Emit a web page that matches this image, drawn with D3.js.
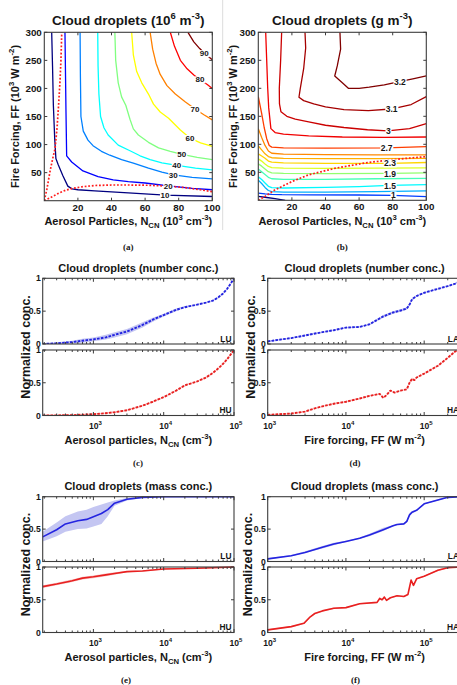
<!DOCTYPE html>
<html><head><meta charset="utf-8">
<script src="https://cdn.jsdelivr.net/npm/d3@7"></script>
<style>
body{margin:0;background:#fff;}
svg{display:block;font-family:"Liberation Sans",Arial,Helvetica,sans-serif;}
text{white-space:pre;}
</style></head><body>
<script>
// ---------------- data ----------------
// (a) droplet number (10^6 m^-3) over aerosol N_CN (10^3 cm^-3) and fire forcing FF (10^3 W m^-2)
const numberLevels = [10, 20, 30, 40, 50, 60, 70, 80, 90];
const numberContours = [
  [[4.4,300],[4.9,240],[5.4,170],[6.2,110],[6.9,75],[8.3,64],[11,45],[14,26],[16.5,21],[20,19.5],[30,17.5],[50,14],[72,10],[100,7.5]],
  [[12.3,300],[12.6,230],[12.9,160],[13.3,80],[16.3,69],[23,53],[32,43],[41,37],[50,34],[60,31.5],[74,26.5],[88,22],[100,19.5]],
  [[21.3,300],[21.5,220],[21.8,150],[23.2,124],[26,108],[29,98],[34,88],[39,81],[46,73],[53,67],[62,58],[70,51],[77,46],[88,41.5],[100,39]],
  [[31.8,300],[32,240],[32.5,190],[33.5,150],[35.5,130],[38,117],[44,99],[51,89],[57,80],[63,73],[70,67.5],[79,63],[90,58],[100,55]],
  [[42,300],[42.5,250],[44,210],[46,185],[48.5,170],[51,145],[53,128],[56,117],[62,104],[68,94],[75,88],[82,82.5],[91,77],[100,73]],
  [[52,300],[53,260],[55,230],[58,210],[62,190],[65,172],[69,158],[74,147],[78,135],[81,126],[87,111],[93,103],[100,97]],
  [[63,300],[64.5,270],[66.5,245],[69,225],[73,205],[78,190],[84,176],[90,163],[95,153],[100,144]],
  [[75,300],[77.5,275],[81,250],[85,235],[89,224],[93,215],[97,207],[100,200]],
  [[85.5,300],[89,283],[92.5,271],[96,261],[100,251]]
];
const numberLabels = [[10,71.8,9.8],[20,73.8,26.6],[30,76.8,46.2],[40,78.8,63],[50,81.8,82.6],[60,86.7,111.5],[70,89.7,163],[80,92.7,216],[90,95.2,262.6]];
const numberRegimeSteep = [[0,0],[1.5,20],[3.4,52],[5,75],[6.4,93],[7.6,130],[8.5,170],[9.3,210],[9.9,250],[10.4,300]];
const numberRegimeFlat = [[0,0],[4,6],[9,14],[13,19],[17,22],[23,25],[30,27],[40,28],[50,28],[62,27.5],[74,26],[85,23],[93,19.5],[100,16]];

// (b) droplet mass (g m^-3)
const massLevels = [0.5, 1, 1.3, 1.5, 1.7, 1.9, 2.1, 2.3, 2.4, 2.5, 2.7, 2.9, 3, 3.1, 3.2];
const massContours = [
  [[0,7],[5,5],[10,3],[16,0]],
  [[0,13],[4,11.5],[8,10.5],[14,10],[30,9.8],[60,9.5],[80,8.8],[100,6.5]],
  [[0,36],[2,30],[4,23],[6,17.5],[8,15.5],[15,14.5],[40,14.5],[70,15.5],[100,17]],
  [[0,42],[2,37],[4,31],[6,25],[8,22.5],[15,22],[40,23],[60,24.5],[78,26.5],[100,28]],
  [[0,56],[2,51],[4,46],[6,41],[8,38.5],[15,37.5],[40,37.5],[70,38.5],[100,39]],
  [[0,65],[2,61],[4,56],[6,51],[8,49],[15,48],[40,47.5],[78,48],[100,49]],
  [[0,74],[2,70],[4,65],[6,60.5],[8,58.5],[15,57.5],[40,57],[70,57.5],[100,58]],
  [[0,83],[2,79],[4,75],[6,70],[8,68],[15,67],[40,66],[78,66],[100,67.5]],
  [[0,97],[2,90],[4,83],[6,78],[8,76],[15,75],[40,74.5],[70,74.5],[100,75]],
  [[0,128],[2,112],[4,98],[6,88],[8,84],[15,82.5],[40,81.5],[70,81],[100,81]],
  [[0,185],[2,155],[3.5,130],[5,110],[6.5,98],[8,95],[15,93.5],[40,93],[76,93.5],[100,96]],
  [[4.4,300],[5,250],[5.6,200],[6.2,165],[7.5,128],[10,121],[15,118],[30,115],[50,113],[75,112.5],[100,113]],
  [[13.9,300],[13.3,250],[12.5,200],[12.6,172],[13.5,158],[17,150],[22,145],[30,140],[40,134],[51,130],[65,126],[77,124],[90,128],[100,137]],
  [[27.8,300],[28.2,272],[27,235],[25,200],[24.2,184],[27,178],[33,172],[40,167],[51,162],[65.5,160],[79,163],[91,171],[100,185]],
  [[48.6,300],[49,270],[47,240],[45.5,222],[50,210],[53.6,200],[60,200],[66,202],[75,206],[84,212],[92,217],[100,222]]
];
const massLabels = [[1,80.4,8.8],[1.5,78.4,26.5],[1.9,78.4,47.9],[2.3,78.4,66],[2.7,76.4,93.4],[3,77.4,124],[3.1,79.4,163.5],[3.2,84.3,212]];
const massRegime = [[0,0],[4,7],[10,18.7],[20,33.5],[30,45.5],[46,57.4],[65,67.4],[83,73.5],[100,78]];

const contourXTicks = [20, 40, 60, 80, 100];
const contourYTicks = [50, 100, 150, 200, 250, 300];
const normTicks = [0, 0.5, 1];

// (c)-(f) rows: [x, normalized value, band low, band high]
const numConcLU = [[190,0.00,0.00,0.01],[300,0.01,0.00,0.025],[500,0.03,0.01,0.05],[700,0.05,0.02,0.08],[1000,0.07,0.04,0.10],[1500,0.10,0.07,0.14],[2000,0.14,0.10,0.18],[3000,0.19,0.15,0.23],[5000,0.29,0.25,0.33],[7000,0.37,0.34,0.40],[10000,0.44,0.42,0.46],[15000,0.52,0.50,0.54],[20000,0.56,0.55,0.58],[30000,0.60,0.59,0.61],[40000,0.63,0.62,0.64],[50000,0.66,0.65,0.67],[60000,0.71,0.70,0.72],[70000,0.77,0.76,0.78],[80000,0.84,0.83,0.85],[90000,0.92,0.91,0.93],[100000,1.00,0.99,1.00]];
const numConcHU = [[190,0.00,0.00,0.01],[500,0.005,0.00,0.015],[1000,0.02,0.01,0.03],[1500,0.035,0.025,0.045],[2000,0.05,0.04,0.06],[3000,0.08,0.07,0.09],[5000,0.15,0.14,0.16],[7000,0.21,0.20,0.22],[10000,0.28,0.27,0.29],[15000,0.38,0.37,0.39],[20000,0.46,0.45,0.47],[30000,0.52,0.51,0.53],[40000,0.58,0.57,0.59],[50000,0.65,0.64,0.66],[60000,0.72,0.71,0.73],[70000,0.79,0.78,0.80],[80000,0.86,0.85,0.87],[100000,1.00,0.99,1.00]];
const numConcLA = [[1000,0.04,0.03,0.05],[1500,0.07,0.06,0.08],[2000,0.09,0.08,0.10],[3000,0.13,0.12,0.14],[5000,0.18,0.17,0.19],[7000,0.21,0.20,0.22],[10000,0.25,0.24,0.26],[15000,0.26,0.25,0.27],[20000,0.30,0.29,0.31],[30000,0.42,0.40,0.44],[40000,0.48,0.46,0.50],[50000,0.51,0.49,0.53],[60000,0.54,0.52,0.56],[65000,0.60,0.58,0.62],[70000,0.68,0.66,0.70],[80000,0.73,0.72,0.74],[100000,0.78,0.77,0.79],[150000,0.84,0.83,0.85],[200000,0.88,0.87,0.89],[250000,0.92,0.91,0.93],[300000,0.96,0.95,0.97]];
const numConcHA = [[1000,0.01,0.00,0.02],[2000,0.03,0.02,0.04],[3000,0.06,0.05,0.07],[4000,0.11,0.10,0.12],[5000,0.14,0.13,0.15],[7000,0.18,0.17,0.19],[10000,0.21,0.20,0.22],[15000,0.26,0.25,0.27],[20000,0.30,0.29,0.31],[27000,0.33,0.32,0.34],[30000,0.27,0.26,0.28],[33000,0.31,0.30,0.32],[37000,0.38,0.37,0.39],[42000,0.35,0.34,0.36],[50000,0.38,0.37,0.39],[60000,0.40,0.39,0.41],[65000,0.50,0.48,0.52],[70000,0.56,0.54,0.58],[75000,0.54,0.53,0.55],[80000,0.58,0.57,0.59],[100000,0.64,0.63,0.65],[150000,0.76,0.75,0.77],[200000,0.88,0.87,0.89],[250000,0.98,0.97,0.99],[300000,1.00,0.99,1.00]];
const massConcLU = [[190,0.38,0.31,0.46],[300,0.49,0.39,0.60],[400,0.58,0.46,0.70],[600,0.63,0.50,0.77],[800,0.65,0.51,0.80],[1000,0.69,0.54,0.84],[1300,0.74,0.58,0.88],[1600,0.80,0.70,0.91],[2000,0.90,0.86,0.94],[3000,0.96,0.94,0.98],[5000,0.99,0.98,1.00],[10000,1.00,1.00,1.00],[100000,1.00,1.00,1.00]];
const massConcHU = [[190,0.70,0.68,0.72],[300,0.74,0.72,0.76],[450,0.78,0.76,0.80],[500,0.79,0.77,0.81],[700,0.83,0.81,0.85],[1000,0.85,0.83,0.87],[1500,0.88,0.86,0.90],[2000,0.90,0.88,0.92],[3000,0.93,0.92,0.94],[5000,0.94,0.93,0.95],[10000,0.97,0.96,0.98],[30000,0.98,0.975,0.99],[100000,1.00,0.99,1.00]];
const massConcLA = [[1000,0.04,0.03,0.05],[2000,0.09,0.08,0.10],[3000,0.14,0.13,0.16],[5000,0.22,0.20,0.24],[7000,0.27,0.25,0.29],[10000,0.31,0.30,0.32],[15000,0.36,0.35,0.37],[20000,0.41,0.39,0.43],[30000,0.49,0.47,0.52],[40000,0.55,0.54,0.56],[45000,0.57,0.56,0.58],[55000,0.58,0.57,0.59],[60000,0.62,0.60,0.64],[65000,0.72,0.70,0.75],[70000,0.76,0.74,0.78],[80000,0.79,0.78,0.80],[100000,0.89,0.88,0.90],[150000,0.95,0.94,0.96],[200000,0.99,0.98,1.00],[300000,1.00,0.99,1.00]];
const massConcHA = [[1000,0.04,0.03,0.05],[2000,0.09,0.08,0.10],[2900,0.14,0.13,0.15],[3500,0.24,0.23,0.25],[4000,0.29,0.28,0.30],[5000,0.33,0.32,0.34],[7000,0.37,0.36,0.38],[10000,0.38,0.37,0.39],[15000,0.44,0.43,0.45],[25000,0.46,0.45,0.47],[27000,0.52,0.50,0.54],[29000,0.50,0.49,0.51],[31000,0.54,0.52,0.56],[33000,0.49,0.48,0.50],[37000,0.53,0.52,0.54],[45000,0.56,0.55,0.57],[55000,0.55,0.54,0.56],[62000,0.58,0.57,0.59],[68000,0.80,0.78,0.82],[73000,0.72,0.71,0.73],[80000,0.82,0.81,0.83],[100000,0.86,0.85,0.87],[150000,0.95,0.94,0.96],[200000,0.99,0.98,1.00],[300000,1.00,0.99,1.00]];

// ---------------- drawing ----------------
const W = 457, H = 685;
const INK = '#161616', AXIS = '#3c3c3c';
const BLUE = '#2424e0', RED = '#e82020';
const svg = d3.select('body').append('svg').attr('width', W).attr('height', H);
svg.append('rect').attr('width', W).attr('height', H).attr('fill', '#fff');

// MATLAB-style jet colour map
function jet(t) {
  const c = v => Math.max(0, Math.min(1, v));
  return d3.rgb(255 * c(1.5 - Math.abs(4 * t - 3)), 255 * c(1.5 - Math.abs(4 * t - 2)), 255 * c(1.5 - Math.abs(4 * t - 1)));
}

// text with super/subscript pieces
function richText(parent, parts, size, attrs) {
  const t = parent.append('text').attr('font-size', size).attr('font-weight', 'bold').attr('fill', INK);
  Object.entries(attrs || {}).forEach(([k, v]) => t.attr(k, v));
  let shift = 0;
  parts.forEach(p => {
    const [s, k] = Array.isArray(p) ? p : [p, 'n'];
    const off = k === 'sup' ? -0.42 * size : k === 'sub' ? 0.3 * size : 0;
    t.append('tspan').attr('dy', (off - shift).toFixed(2))
      .attr('font-size', k === 'n' ? size : (size * 0.7).toFixed(2)).text(s);
    shift = off;
  });
  return t;
}

let clipCount = 0;
function clipFor(l, t, r, b) {
  const id = 'clip' + (clipCount++);
  svg.append('clipPath').attr('id', id).append('rect').attr('x', l).attr('y', t).attr('width', r - l).attr('height', b - t);
  return `url(#${id})`;
}

function contourPanel(p) {
  const x = d3.scaleLinear().domain([0, 100]).range([p.left, p.right]);
  const y = d3.scaleLinear().domain([0, 300]).range([p.bottom, p.top]);
  const g = svg.append('g');
  const plot = g.append('g').attr('clip-path', clipFor(p.left, p.top, p.right, p.bottom));
  const lo = d3.min(p.levels), hi = d3.max(p.levels);
  const line = d3.line().x(d => x(d[0])).y(d => y(d[1]));
  p.contours.forEach((pts, i) => plot.append('path').attr('d', line(pts)).attr('fill', 'none')
    .attr('stroke', jet((p.levels[i] - lo) / (hi - lo))).attr('stroke-width', 1.3).attr('stroke-linejoin', 'round'));
  p.regimes.forEach(pts => plot.append('path').attr('d', line(pts)).attr('fill', 'none')
    .attr('stroke', '#ff1c1c').attr('stroke-width', 1.7).attr('stroke-dasharray', '1.8,1.8'));
  p.labels.forEach(([lev, lx, ly]) => {
    const t = plot.append('text').attr('x', x(lx)).attr('y', y(ly)).attr('dy', '0.36em')
      .attr('text-anchor', 'middle').attr('font-size', p.labelSize).attr('font-weight', 'bold').attr('fill', INK).text(lev);
    const b = t.node().getBBox();
    plot.insert('rect', () => t.node()).attr('x', b.x - 0.5).attr('y', b.y + 1).attr('width', b.width + 1).attr('height', b.height - 2).attr('fill', '#fff');
  });
  // box and inward ticks
  const ax = g.append('g').attr('stroke', AXIS).attr('fill', 'none');
  ax.append('rect').attr('x', p.left).attr('y', p.top).attr('width', p.right - p.left).attr('height', p.bottom - p.top).attr('stroke-width', 1.1);
  contourXTicks.forEach(v => {
    ax.append('line').attr('x1', x(v)).attr('x2', x(v)).attr('y1', p.bottom).attr('y2', p.bottom - 3);
    ax.append('line').attr('x1', x(v)).attr('x2', x(v)).attr('y1', p.top).attr('y2', p.top + 3);
    g.append('text').attr('x', x(v)).attr('y', p.bottom + 10).attr('text-anchor', 'middle')
      .attr('font-size', 9.8).attr('font-weight', 'bold').attr('fill', INK).text(v);
  });
  contourYTicks.forEach(v => {
    ax.append('line').attr('x1', p.left).attr('x2', p.left + 3).attr('y1', y(v)).attr('y2', y(v));
    ax.append('line').attr('x1', p.right).attr('x2', p.right - 3).attr('y1', y(v)).attr('y2', y(v));
    g.append('text').attr('x', p.left - 2.5).attr('y', y(v) + 3.5).attr('text-anchor', 'end')
      .attr('font-size', 9.8).attr('font-weight', 'bold').attr('fill', INK).text(v);
  });
  const cx = (p.left + p.right) / 2;
  richText(g, p.title, 13.5, { x: cx, y: 24.5, 'text-anchor': 'middle' });
  richText(g, ['Aerosol Particles, N', ['CN', 'sub'], ' (10', ['3', 'sup'], ' cm', ['-3', 'sup'], ')'], 11, { x: cx, y: 225, 'text-anchor': 'middle' });
  richText(g, ['Fire Forcing, FF (10', ['3', 'sup'], ' W m', ['-2', 'sup'], ')'], 11,
    { x: 0, y: 0, 'text-anchor': 'middle', transform: `translate(${p.yLabelX},${(p.top + p.bottom) / 2}) rotate(-90)` });
  g.append('text').attr('x', cx).attr('y', 250).attr('text-anchor', 'middle').attr('font-family', '"Liberation Serif",serif')
    .attr('font-size', 9).attr('font-weight', 'bold').attr('fill', INK).text(p.caption);
}

function logSubplot(p) {
  const x = d3.scaleLog().domain(p.domain).range([p.left, p.right]);
  const y = d3.scaleLinear().domain([0, 1]).range([p.bottom, p.top]);
  const g = svg.append('g');
  const plot = g.append('g').attr('clip-path', clipFor(p.left, p.top - 1, p.right, p.bottom));
  plot.append('path').datum(p.data)
    .attr('d', d3.area().x(d => x(d[0])).y0(d => y(d[2])).y1(d => y(d[3])))
    .attr('fill', p.band).attr('stroke', 'none');
  plot.append('path').datum(p.data)
    .attr('d', d3.line().x(d => x(d[0])).y(d => y(d[1])))
    .attr('fill', 'none').attr('stroke', p.color).attr('stroke-width', p.dashed ? 1.9 : 1.6)
    .attr('stroke-dasharray', p.dashed ? '2.6,1.3' : null).attr('stroke-linejoin', 'round');
  const ax = g.append('g').attr('stroke', AXIS).attr('fill', 'none');
  ax.append('rect').attr('x', p.left).attr('y', p.top).attr('width', p.right - p.left).attr('height', p.bottom - p.top).attr('stroke-width', 1.1);
  const [d0, d1] = p.domain;
  for (let e = Math.floor(Math.log10(d0)); e <= Math.ceil(Math.log10(d1)); e++) {
    for (let m = 1; m <= 9; m++) {
      const v = m * Math.pow(10, e);
      if (v < d0 * 0.999 || v > d1 * 1.001) continue;
      const len = m === 1 ? 3.5 : 2;
      ax.append('line').attr('x1', x(v)).attr('x2', x(v)).attr('y1', p.bottom).attr('y2', p.bottom - len);
      ax.append('line').attr('x1', x(v)).attr('x2', x(v)).attr('y1', p.top).attr('y2', p.top + len);
      if (m === 1 && p.xLabels) {
        richText(g, ['10', [String(e), 'sup']], 8.6, { x: x(v) + 2, y: p.bottom + 13, 'text-anchor': 'middle' });
      }
    }
  }
  normTicks.forEach(v => {
    ax.append('line').attr('x1', p.left).attr('x2', p.left + 3).attr('y1', y(v)).attr('y2', y(v));
    ax.append('line').attr('x1', p.right).attr('x2', p.right - 3).attr('y1', y(v)).attr('y2', y(v));
    g.append('text').attr('x', p.left - 2).attr('y', y(v) + 3).attr('text-anchor', 'end')
      .attr('font-size', 8.6).attr('font-weight', 'bold').attr('fill', INK).text(v);
  });
  g.append('text').attr('x', p.right - 2.5).attr('y', p.bottom - 2.5).attr('text-anchor', 'end')
    .attr('font-size', 8.4).attr('font-weight', 'bold').attr('fill', INK).text(p.tag);
}

function logPanel(p) {
  const common = { left: p.left, right: p.right, domain: p.domain };
  logSubplot(Object.assign({}, common, { top: p.rows[0], bottom: p.rows[1], data: p.upper, color: BLUE, band: '#c4c6f2', dashed: p.dashed, tag: p.tags[0], xLabels: false }));
  logSubplot(Object.assign({}, common, { top: p.rows[2], bottom: p.rows[3], data: p.lower, color: RED, band: '#f6c4c4', dashed: p.dashed, tag: p.tags[1], xLabels: true }));
  const cx = (p.left + p.right) / 2;
  richText(svg, [p.title], 11, { x: cx, y: p.rows[0] - 6.5, 'text-anchor': 'middle' });
  richText(svg, p.xLabel, 11, { x: cx, y: p.rows[3] + 28.5, 'text-anchor': 'middle' });
  richText(svg, ['Normalized conc.'], 12.5,
    { x: 0, y: 0, 'text-anchor': 'middle', transform: `translate(${p.yLabelX},${(p.rows[0] + p.rows[3]) / 2}) rotate(-90)` });
  svg.append('text').attr('x', p.captionX).attr('y', p.rows[3] + 50).attr('text-anchor', 'middle').attr('font-family', '"Liberation Serif",serif')
    .attr('font-size', 9).attr('font-weight', 'bold').attr('fill', INK).text(p.caption);
}

// separator between the two contour panels
svg.append('line').attr('x1', 222.7).attr('x2', 222.7).attr('y1', 0).attr('y2', 230).attr('stroke', '#dcdcdc').attr('stroke-width', 1);

contourPanel({ left: 44.3, right: 212.3, top: 32.3, bottom: 200.7, levels: numberLevels, contours: numberContours,
  labels: numberLabels, regimes: [numberRegimeSteep, numberRegimeFlat], labelSize: 8,
  title: ['Cloud droplets (10', ['6', 'sup'], ' m', ['-3', 'sup'], ')'], yLabelX: 19, caption: '(a)' });
contourPanel({ left: 258.3, right: 426.3, top: 32.3, bottom: 200.3, levels: massLevels, contours: massContours,
  labels: massLabels, regimes: [massRegime], labelSize: 8.5,
  title: ['Cloud droplets (g m', ['-3', 'sup'], ')'], yLabelX: 236.5, caption: '(b)' });

const aerosolLabel = ['Aerosol particles, N', ['CN', 'sub'], ' (cm', ['-3', 'sup'], ')'];
const fireLabel = ['Fire forcing, FF (W m', ['-2', 'sup'], ')'];
const numberRows = [278.3, 344, 350, 415.5];
const massRows = [496.7, 561.5, 567, 632.5];

logPanel({ left: 42.7, right: 234, domain: [190, 1e5], rows: numberRows, upper: numConcLU, lower: numConcHU, dashed: true,
  tags: ['LU', 'HU'], title: 'Cloud droplets (number conc.)', xLabel: aerosolLabel, yLabelX: 29.5, caption: '(c)', captionX: 138 });
logPanel({ left: 267.7, right: 461.5, domain: [1e3, 3e5], rows: numberRows, upper: numConcLA, lower: numConcHA, dashed: true,
  tags: ['LA', 'HA'], title: 'Cloud droplets (number conc.)', xLabel: fireLabel, yLabelX: 255, caption: '(d)', captionX: 355 });
logPanel({ left: 42.7, right: 234, domain: [190, 1e5], rows: massRows, upper: massConcLU, lower: massConcHU, dashed: false,
  tags: ['LU', 'HU'], title: 'Cloud droplets (mass conc.)', xLabel: aerosolLabel, yLabelX: 30, caption: '(e)', captionX: 126 });
logPanel({ left: 267.7, right: 461.5, domain: [1e3, 3e5], rows: massRows, upper: massConcLA, lower: massConcHA, dashed: false,
  tags: ['LA', 'HA'], title: 'Cloud droplets (mass conc.)', xLabel: fireLabel, yLabelX: 251.5, caption: '(f)', captionX: 355.5 });
</script>
</body></html>
